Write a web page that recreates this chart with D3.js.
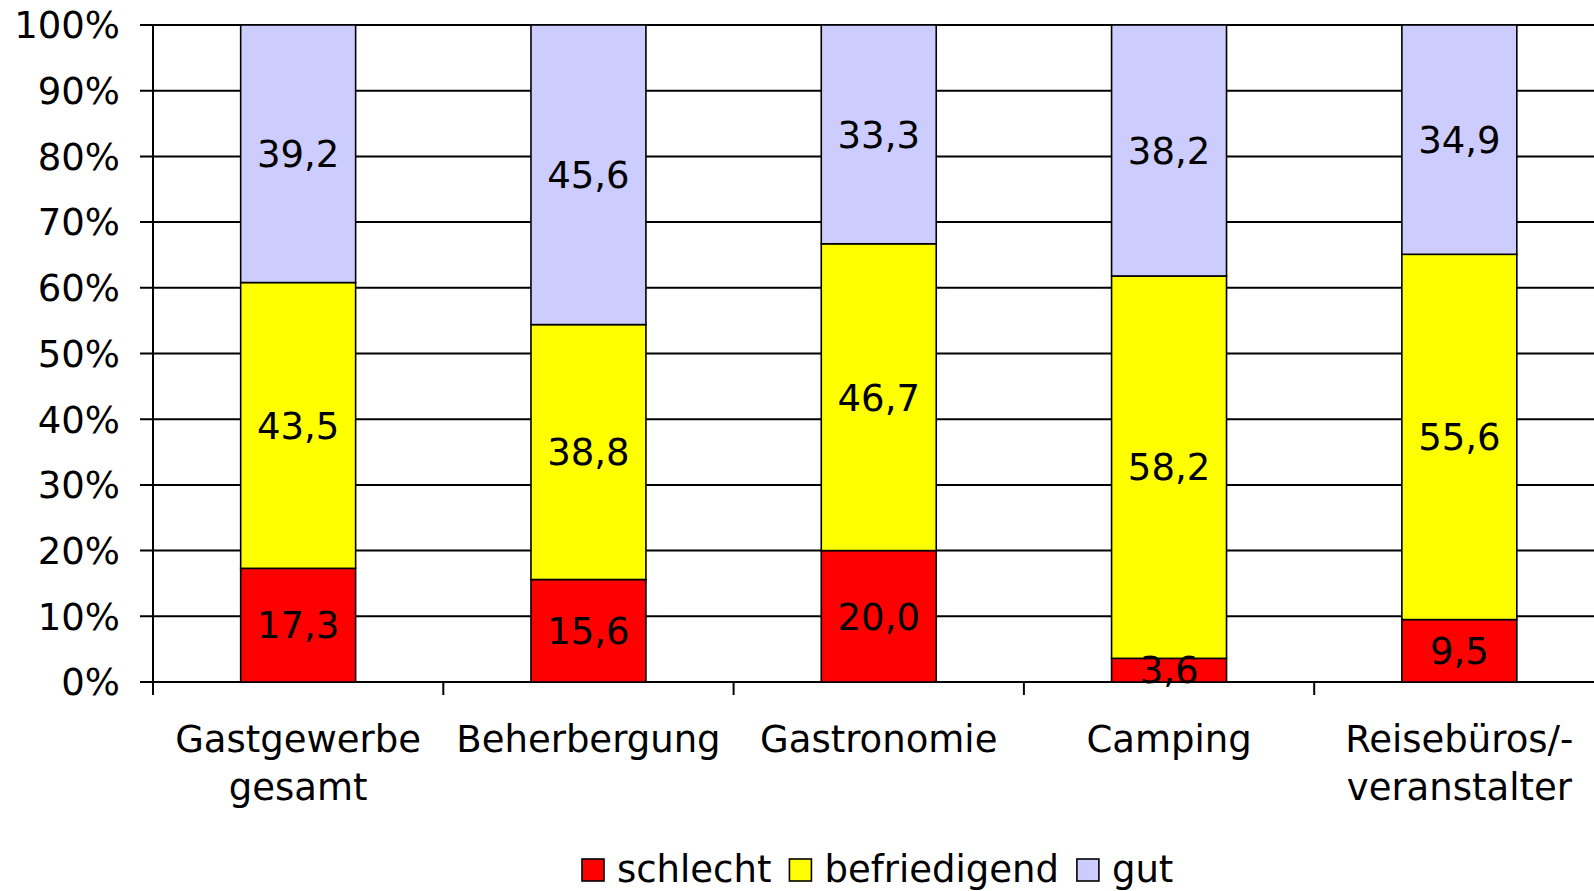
<!DOCTYPE html>
<html>
<head>
<meta charset="utf-8">
<script src="https://cdn.jsdelivr.net/npm/d3@7"></script>
<style>
  html, body { margin: 0; padding: 0; background: #fff; }
  svg { display: block; font-family: "DejaVu Sans", Verdana, sans-serif; }
</style>
</head>
<body>
<svg id="chart" width="1594" height="891"></svg>
<script>
const categories = [["Gastgewerbe", "gesamt"], ["Beherbergung"], ["Gastronomie"], ["Camping"], ["Reisebüros/-", "veranstalter"]];
const seriesNames = ["schlecht", "befriedigend", "gut"];
const schlecht = [17.3, 15.6, 20.0, 3.6, 9.5];
const befriedigend = [43.5, 38.8, 46.7, 58.2, 55.6];
const gut = [39.2, 45.6, 33.3, 38.2, 34.9];
const colors = ["#FF0000", "#FFFF00", "#CCCCFF"];
const yTicks = [0, 10, 20, 30, 40, 50, 60, 70, 80, 90, 100];

(function () {
const svg = d3.select("#chart");
const pLeft = 153, pRight = 1604.5, pTop = 25, pBottom = 682;
const fontSize = 37;

const catKeys = categories.map(c => c.join(" "));
const x = d3.scaleBand().domain(catKeys).range([pLeft, pRight]).padding(0);
const y = d3.scaleLinear().domain([0, 100]).range([pBottom, pTop]);

const rows = catKeys.map((k, i) => ({ key: k, schlecht: schlecht[i], befriedigend: befriedigend[i], gut: gut[i] }));
const stacked = d3.stack().keys(seriesNames)(rows);

// gridlines
svg.append("g").selectAll("line").data(yTicks).join("line")
  .attr("x1", pLeft - 13).attr("x2", 1594)
  .attr("y1", d => y(d)).attr("y2", d => y(d))
  .attr("stroke", "#000").attr("stroke-width", 2);

// y axis labels
svg.append("g").selectAll("text").data(yTicks).join("text")
  .attr("x", 120).attr("y", d => y(d)).attr("dy", "0.36em")
  .attr("text-anchor", "end").attr("font-size", fontSize).attr("fill", "#000")
  .text(d => d + "%");

// y axis line
svg.append("line").attr("x1", pLeft).attr("x2", pLeft).attr("y1", pTop).attr("y2", pBottom + 13)
  .attr("stroke", "#000").attr("stroke-width", 2);

// category ticks
const bounds = catKeys.map(k => x(k));
svg.append("g").selectAll("line").data(bounds).join("line")
  .attr("x1", d => d).attr("x2", d => d).attr("y1", pBottom).attr("y2", pBottom + 13)
  .attr("stroke", "#000").attr("stroke-width", 2);

// bars
const barW = x.bandwidth() * 0.396;
const barX = k => x(k) + (x.bandwidth() - barW) / 2;
stacked.forEach((s, si) => {
  svg.append("g").selectAll("rect").data(s).join("rect")
    .attr("x", d => barX(d.data.key))
    .attr("width", barW)
    .attr("y", d => y(d[1]))
    .attr("height", d => y(d[0]) - y(d[1]))
    .attr("fill", colors[si]).attr("stroke", "#000").attr("stroke-width", 1.6);
});

// data labels
const fmt = v => v.toFixed(1).replace(".", ",");
stacked.forEach((s, si) => {
  svg.append("g").selectAll("text").data(s).join("text")
    .attr("x", d => x(d.data.key) + x.bandwidth() / 2)
    .attr("y", d => y((d[0] + d[1]) / 2)).attr("dy", "0.36em")
    .attr("text-anchor", "middle").attr("font-size", fontSize).attr("fill", "#000")
    .text(d => fmt(d[1] - d[0]));
});

// category labels
categories.forEach((lines, i) => {
  const cx = x(catKeys[i]) + x.bandwidth() / 2;
  lines.forEach((ln, j) => {
    svg.append("text").attr("x", cx).attr("y", 752 + j * 48)
      .attr("text-anchor", "middle").attr("font-size", fontSize).attr("fill", "#000")
      .text(ln);
  });
});

// legend
const legend = svg.append("g");
let lx = 582;
seriesNames.forEach((name, i) => {
  legend.append("rect").attr("x", lx).attr("y", 859).attr("width", 22).attr("height", 22)
    .attr("fill", colors[i]).attr("stroke", "#000").attr("stroke-width", 1.6);
  const t = legend.append("text").attr("x", lx + 35).attr("y", 882)
    .attr("font-size", fontSize).attr("fill", "#000").text(name);
  lx += 35 + t.node().getComputedTextLength() + 18;
});
})();
</script>
</body>
</html>
